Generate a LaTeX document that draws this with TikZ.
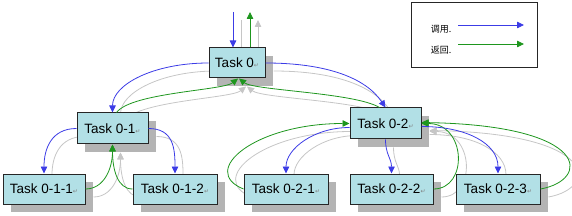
\documentclass[tikz,border=0pt]{standalone}
\usepackage{fontspec}
\setmainfont{Liberation Sans}
\newfontfamily\cjk{Noto Sans CJK SC}
\newfontfamily\dejavu{DejaVu Sans}
\usetikzlibrary{arrows.meta,calc,shadows}
\pgfdeclarelayer{shadowlayer}
\pgfsetlayers{shadowlayer,main}
\definecolor{boxfill}{RGB}{178,224,230}
\definecolor{callblue}{RGB}{60,60,230}
\definecolor{retgreen}{RGB}{30,150,30}
\definecolor{shadegray}{RGB}{198,198,198}
\definecolor{boxshadow}{RGB}{180,180,180}
\newcommand\parmk{{\dejavu\fontsize{6}{6}\selectfont\textcolor{gray}{↵}}}
\newcommand\link[2]{%
  \begin{pgfonlayer}{shadowlayer}\draw[ghost] #2;\end{pgfonlayer}%
  \draw[#1] #2;}
\tikzset{
  task/.style={draw=black!85, line width=1pt, fill=boxfill, minimum height=30pt,
    inner sep=0pt, font=\fontsize{13.5}{15}\selectfont,
    drop shadow={shadow xshift=8pt, shadow yshift=-8pt, opacity=1, fill=boxshadow}},
  tip/.style={-{Triangle[length=7pt,width=6.5pt]}},
  call/.style={draw=callblue, line width=0.8pt, tip},
  ret/.style={draw=retgreen, line width=0.8pt, tip},
  ghost/.style={draw=shadegray, line width=0.8pt, tip, transform canvas={shift={(8pt,-8pt)}}},
  legtext/.style={font=\cjk\fontsize{9}{10}\selectfont, inner sep=0pt}
}
\begin{document}
\begin{tikzpicture}[x=1pt,y=-1pt]
\useasboundingbox (0,0) rectangle (572,216);
% nodes
\node[task, minimum width=56pt, minimum height=30pt] (t0) at (237,63) {Task 0\parmk};
\node[task, minimum width=71pt, minimum height=31pt] (t01) at (112.5,128.5) {Task 0-1\parmk};
\node[task, minimum width=71pt, minimum height=31pt] (t02) at (385.5,123.5) {Task 0-2\parmk};
\node[task, minimum width=82pt] (t011) at (44,189) {Task 0-1-1\parmk};
\node[task, minimum width=84pt] (t012) at (175,189) {Task 0-1-2\parmk};
\node[task, minimum width=84pt] (t021) at (286,189) {Task 0-2-1\parmk};
\node[task, minimum width=83pt] (t022) at (391.5,189) {Task 0-2-2\parmk};
\node[task, minimum width=84pt] (t023) at (498,189) {Task 0-2-3\parmk};
% top in/out
\coordinate (intop) at (233,12);
\coordinate (outtop) at (250,12);
\link{call}{(intop) -- (intop |- t0.north)}
\link{ret}{(outtop |- t0.north) -- (outtop)}
% level 1
\link{call}{(t0.west) .. controls +(-55,0) and +(0,-28) .. (t01.north)}
\link{ret}{($(t01.north)+(4,0)$) .. controls +(15,-20) and +(-15,12) .. ($(t0.south)+(1,0)$)}
\link{call}{(t0.east) .. controls +(60,0) and +(-20,-30) .. (t02.north)}
\link{ret}{($(t02.north)+(-6,0)$) .. controls +(-25,-15) and +(15,12) .. ($(t0.south)+(2,0)$)}
% level 2 left
\link{call}{(t01.west) .. controls +(-25,0) and +(0,-25) .. (t011.north)}
\link{ret}{(t011.east) .. controls +(18,0) and +(0,25) .. (t01.south)}
\link{call}{(t01.east) .. controls +(25,0) and +(0,-25) .. (t012.north)}
\link{ret}{(t012.west) .. controls +(-15,0) and +(0,25) .. (t01.south)}
% level 2 right
\link{call}{($(t02.west)+(0,4)$) .. controls +(-35,0) and +(0,-25) .. (t021.north)}
\link{ret}{(t021.west) .. controls +(-45,-18) and +(-95,0) .. (t02.west)}
\link{call}{(t02.south) .. controls +(0,15) and +(0,-15) .. (t022.north)}
\link{ret}{(t022.east) .. controls +(35,0) and +(45,0) .. (t02.east)}
\link{call}{($(t02.east)+(0,3)$) .. controls +(45,0) and +(0,-30) .. (t023.north)}
\link{ret}{(t023.east) .. controls +(50,-9) and +(170,3) .. ($(t02.east)+(0,-1)$)}
% legend
\node[draw=black!85, line width=1pt, minimum width=126pt, minimum height=65pt, inner sep=0pt] (legend) at (474,35.5) {};
\node[legtext] (lcall) at (441,29) {调用.};
\node[legtext] (lret) at (441,50) {返回.};
\coordinate (la1) at (458,25);
\coordinate (lb1) at (524,25);
\coordinate (la2) at (458,44);
\coordinate (lb2) at (524,44);
\draw[call] (la1) -- (lb1);
\draw[ret] (la2) -- (lb2);
\end{tikzpicture}
\end{document}
